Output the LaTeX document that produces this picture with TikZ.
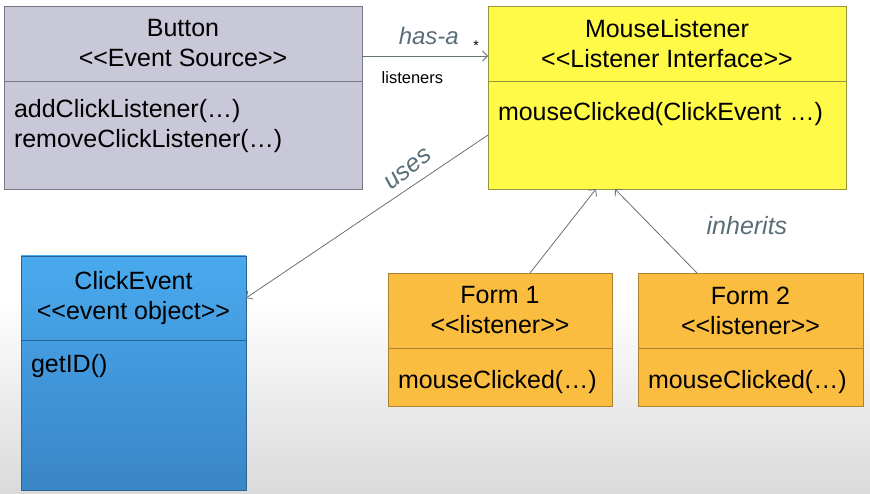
\documentclass[tikz,border=0pt]{standalone}
\usepackage{fontspec}
\setmainfont{Liberation Sans}
\usetikzlibrary{shapes}
\usetikzlibrary{arrows,arrows.meta}
\usetikzlibrary{calc,positioning}

\definecolor{btnfill}{RGB}{200,200,216}
\definecolor{btnline}{RGB}{120,120,130}
\definecolor{mlfill}{RGB}{255,250,72}
\definecolor{mlline}{RGB}{150,150,60}
\definecolor{frmfill}{RGB}{251,189,64}
\definecolor{frmline}{RGB}{170,130,50}
\definecolor{evtop}{RGB}{74,170,238}
\definecolor{evmid}{RGB}{68,156,224}
\definecolor{evbot}{RGB}{58,134,198}
\definecolor{evline}{RGB}{40,100,150}
\definecolor{linkgray}{RGB}{100,115,120}
\definecolor{lblgray}{RGB}{90,110,122}
\definecolor{bggray}{RGB}{218,218,218}

\newcommand{\stereo}[1]{<{}<#1>{}>}

\begin{document}
\begin{tikzpicture}[x=1pt, y=1pt,
  head/.style = {draw, align=center, inner sep=0, outer sep=0, font=\fontsize{25}{30}\selectfont},
  body/.style = {draw, align=left, inner xsep=10pt, inner ysep=10pt, outer sep=0, font=\fontsize{25}{30}\selectfont},
  link/.style = {-{Straight Barb[length=5pt,width=10pt]}, draw=linkgray, line width=0.8pt},
  lbl/.style = {inner sep=0, text=lblgray, font=\fontsize{24}{28}\itshape}]

\useasboundingbox (0,0) rectangle (870,-494);
\fill[white] (0,0) rectangle (870,-300);
\shade[top color=white, bottom color=bggray] (0,-300) rectangle (870,-494);

% classes
\node[head, fill=btnfill, draw=btnline, minimum width=358pt, minimum height=75pt, anchor=north west] (btnhead) at (4,-6) {Button\\\stereo{Event Source}};
\node[body, fill=btnfill, draw=btnline, below=0pt of btnhead, text width=338pt, text height=27pt, text depth=61pt] (btnbody) {addClickListener(…)\\removeClickListener(…)};

\node[head, fill=mlfill, draw=mlline, minimum width=358pt, minimum height=75pt, right=126pt of btnhead] (mlhead) {MouseListener\\\stereo{Listener Interface}};
\node[body, fill=mlfill, draw=mlline, below=0pt of mlhead, text width=338pt, text height=30pt, text depth=58pt] (mlbody) {mouseClicked(ClickEvent …)};

\node[head, top color=evtop, bottom color=evmid, draw=evline, minimum width=225pt, minimum height=84pt, below=67pt of btnbody.south west, anchor=north west, xshift=17pt] (evhead) {ClickEvent\\\stereo{event object}};
\node[body, top color=evmid, bottom color=evbot, draw=evline, below=0pt of evhead, text width=205pt, text height=22pt, text depth=108pt] (evbody) {getID()};

\node[head, fill=frmfill, draw=frmline, minimum width=224pt, minimum height=75pt, below=84pt of mlbody.south west, anchor=north west, xshift=-100pt] (f1head) {Form 1\\\stereo{listener}};
\node[body, fill=frmfill, draw=frmline, below=0pt of f1head, text width=204pt, text height=30pt, text depth=8pt] (f1body) {mouseClicked(…)};

\node[head, fill=frmfill, draw=frmline, minimum width=225pt, minimum height=75pt, right=26pt of f1head] (f2head) {Form 2\\\stereo{listener}};
\node[body, fill=frmfill, draw=frmline, below=0pt of f2head, text width=205pt, text height=30pt, text depth=8pt] (f2body) {mouseClicked(…)};

% connectors
\draw [link] ([yshift=-12.5pt]btnhead.east) to
  node[lbl, pos=.53, above=11pt] {has-a}
  node[pos=.905, above=5pt, inner sep=0, font=\fontsize{14}{16}\selectfont] {*}
  node[pos=.4, below=15pt, inner sep=0, font=\fontsize{16.5}{20}\selectfont] {listeners}
  ([yshift=-12.5pt]mlhead.west);
\draw [link] (mlbody.west) to node[lbl, pos=.29, sloped, rotate=5, above=9pt, font=\fontsize{25}{28}\itshape] {uses} (evhead.east);
\draw [link] ([xshift=30pt]f1head.north) to ([xshift=-71pt]mlbody.south);
\draw [link] ([xshift=-53.5pt]f2head.north) to node[lbl, pos=.57, right=56pt, font=\fontsize{25}{28}\itshape] {inherits} ([xshift=-52pt]mlbody.south);

\end{tikzpicture}
\end{document}
